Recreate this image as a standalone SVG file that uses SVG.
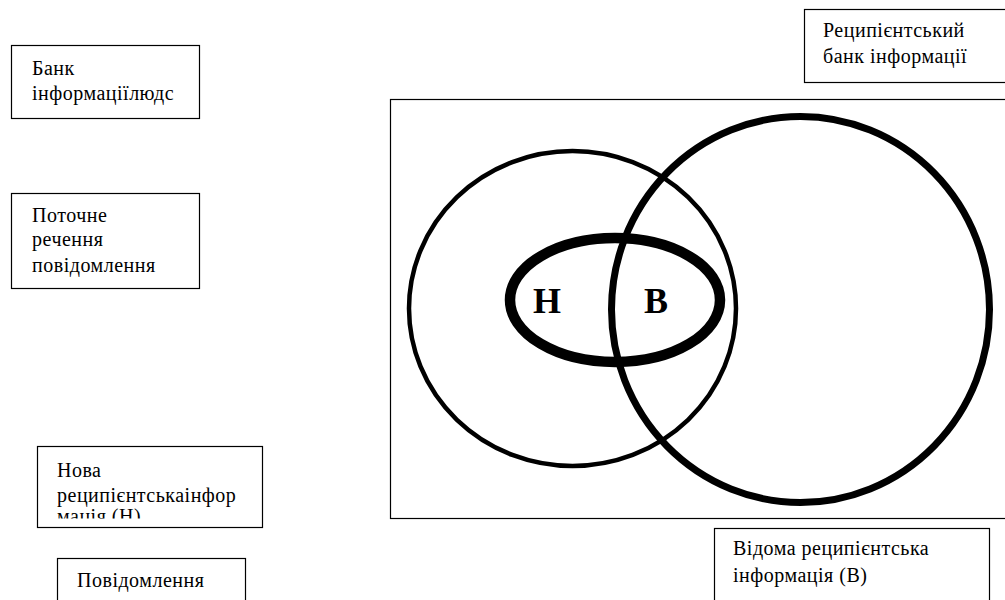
<svg xmlns="http://www.w3.org/2000/svg" width="1005" height="600" viewBox="0 0 1005 600" font-family="Liberation Serif, serif">
<style>
.box{fill:#fff;stroke:#000;stroke-width:1.2}
.t{font-size:20px;letter-spacing:0.5px;fill:#000}
.big{font-size:36px;font-weight:bold;fill:#000}
.ring{fill:none;stroke:#000}
</style>
<defs>
<clipPath id="clipNova"><rect x="38" y="446" width="224" height="72.5"/></clipPath>
</defs>
<rect width="1005" height="600" fill="#fff"/>
<g id="bank-people">
<rect class="box" x="11.5" y="45.5" width="188" height="73"/>
<text class="t" x="32" y="75">Банк</text>
<text class="t" x="32" y="100">інформаціїлюдс</text>
</g>
<g id="current-sentence">
<rect class="box" x="11.5" y="193.5" width="188" height="95"/>
<text class="t" x="32" y="222">Поточне</text>
<text class="t" x="32" y="246">речення</text>
<text class="t" x="32" y="272">повідомлення</text>
</g>
<g id="new-info">
<rect class="box" x="37.5" y="446.5" width="225" height="81"/>
<g clip-path="url(#clipNova)">
<text class="t" x="57" y="477">Нова</text>
<text class="t" x="57" y="502">реципієнтськаінфор</text>
<text class="t" x="57" y="523">мація (Н)</text>
</g>
</g>
<g id="message">
<rect class="box" x="57.5" y="558.5" width="188" height="60"/>
<text class="t" x="77" y="587">Повідомлення</text>
</g>
<g id="recipient-bank">
<rect class="box" x="804.5" y="9.5" width="220" height="73"/>
<text class="t" x="823" y="37">Реципієнтський</text>
<text class="t" x="823" y="63">банк інформації</text>
</g>
<g id="field">
<rect class="box" x="390.5" y="99.5" width="640" height="419"/>
</g>
<g id="known-info">
<rect class="box" x="714.5" y="528.5" width="275" height="90"/>
<text class="t" x="733" y="555">Відома реципієнтська</text>
<text class="t" x="733" y="582">інформація (В)</text>
</g>
<g id="circle-new">
<ellipse class="ring" cx="572.5" cy="308.5" rx="163.5" ry="157.5" stroke-width="4.5"/>
</g>
<g id="circle-known">
<ellipse class="ring" cx="800.5" cy="309.5" rx="189" ry="193" stroke-width="7"/>
</g>
<g id="current-ellipse">
<ellipse class="ring" cx="615" cy="300" rx="105" ry="62" stroke-width="10.5"/>
<text class="big" x="547" y="313" text-anchor="middle">Н</text>
<text class="big" x="656" y="313" text-anchor="middle">В</text>
</g>
<g id="connectors"></g>
</svg>
